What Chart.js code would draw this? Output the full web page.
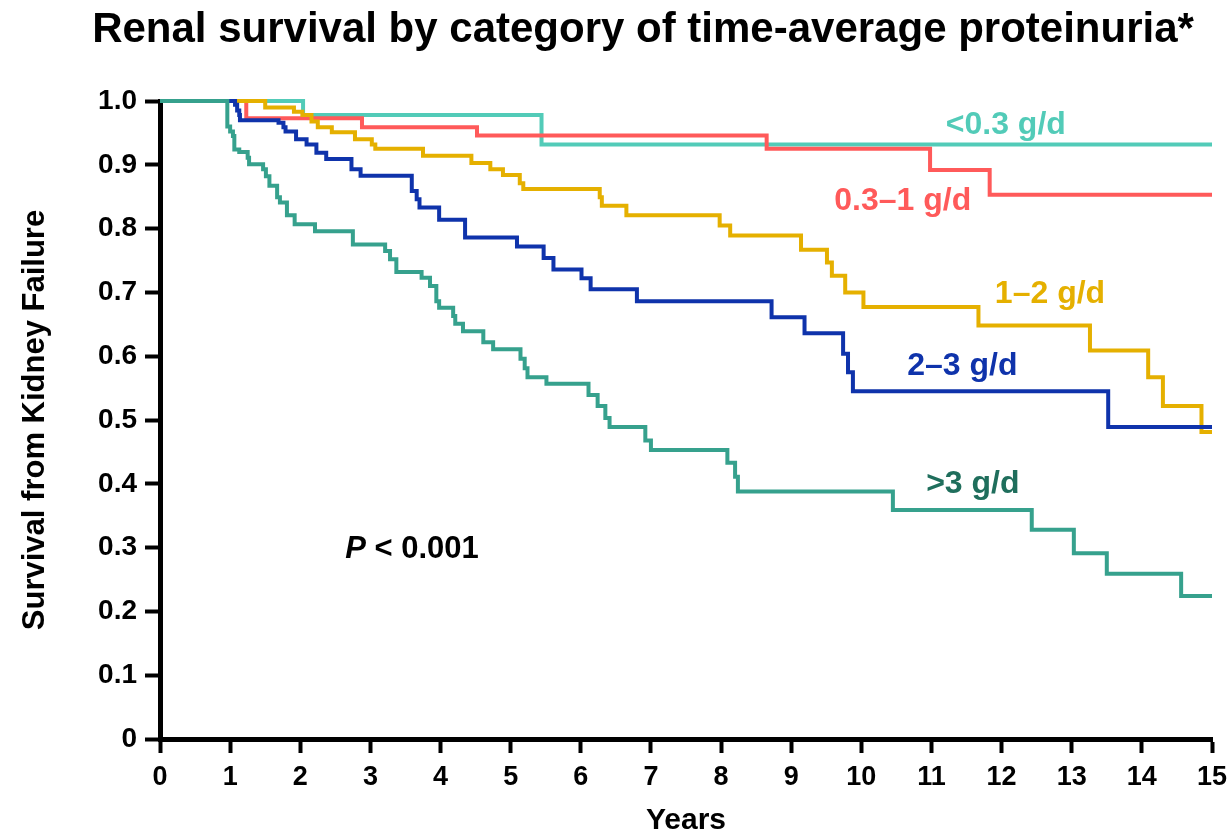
<!DOCTYPE html>
<html>
<head>
<meta charset="utf-8">
<title>Renal survival by category of time-average proteinuria</title>
<script src="https://cdn.jsdelivr.net/npm/chart.js@4"></script>
<style>
  html, body { margin: 0; padding: 0; background: #fff; }
  #wrap { width: 1232px; height: 839px; }
</style>
</head>
<body>
<div id="wrap"><canvas id="kmChart" width="1232" height="839"></canvas></div>
<script>
// Kaplan-Meier steps: time of each drop (years) and survival after it
var tLow = [0, 2.04, 5.44, 15];
var sLow = [1, 0.978, 0.932, 0.932];

var tMid = [0, 1.23, 2.88, 4.52, 8.65, 10.98, 11.83, 15];
var sMid = [1, 0.973, 0.959, 0.946, 0.925, 0.892, 0.853, 0.853];

var tOneTwo = [0, 1.50, 1.91, 2.03, 2.16, 2.25, 2.45, 2.78, 3.02, 3.07, 3.75, 4.44, 4.71, 4.89, 5.13, 5.18,
  6.27, 6.30, 6.65, 7.98, 8.13, 9.14, 9.51, 9.58, 9.77, 10.03, 11.67, 13.26, 14.09, 14.30, 14.85, 15];
var sOneTwo = [1, 0.990, 0.983, 0.978, 0.968, 0.959, 0.951, 0.940, 0.932, 0.925, 0.914, 0.903, 0.893, 0.884, 0.871, 0.862,
  0.849, 0.836, 0.821, 0.805, 0.789, 0.767, 0.747, 0.726, 0.700, 0.677, 0.648, 0.609, 0.567, 0.522, 0.481, 0.481];

var tTwoThree = [0, 1.07, 1.10, 1.13, 1.14, 1.69, 1.76, 1.79, 1.94, 2.09, 2.23, 2.37, 2.73, 2.86, 3.59, 3.66,
  3.70, 3.98, 4.35, 5.09, 5.47, 5.61, 6.01, 6.14, 6.80, 8.72, 9.19, 9.74, 9.81, 9.88, 13.52, 15];
var sTwoThree = [1, 0.994, 0.985, 0.978, 0.970, 0.966, 0.959, 0.952, 0.940, 0.932, 0.919, 0.909, 0.893, 0.883, 0.859, 0.846,
  0.833, 0.814, 0.786, 0.772, 0.754, 0.736, 0.722, 0.705, 0.686, 0.661, 0.636, 0.604, 0.575, 0.545, 0.489, 0.489];

var tHigh = [0, 0.96, 1.00, 1.04, 1.06, 1.13, 1.25, 1.27, 1.47, 1.51, 1.56, 1.67, 1.71, 1.81, 1.92, 2.21,
  2.75, 3.21, 3.28, 3.37, 3.73, 3.85, 3.94, 3.98, 4.18, 4.21, 4.32, 4.61, 4.75, 5.14, 5.20, 5.24,
  5.51, 6.11, 6.24, 6.35, 6.41, 6.92, 7.00, 8.09, 8.20, 8.24, 10.45, 12.43, 13.03, 13.50, 14.56, 15];
var sHigh = [1, 0.960, 0.952, 0.945, 0.924, 0.920, 0.911, 0.901, 0.893, 0.882, 0.867, 0.849, 0.841, 0.821, 0.807, 0.796,
  0.775, 0.765, 0.752, 0.732, 0.723, 0.710, 0.686, 0.676, 0.663, 0.651, 0.639, 0.622, 0.611, 0.596, 0.581, 0.567,
  0.557, 0.539, 0.522, 0.503, 0.489, 0.468, 0.453, 0.433, 0.411, 0.388, 0.359, 0.328, 0.291, 0.259, 0.224, 0.224];

var groupNames = ["<0.3 g/d", "0.3\u20131 g/d", "1\u20132 g/d", "2\u20133 g/d", ">3 g/d"];
var xTicks = [0, 15, 1];
var yTicks = [0, 1, 0.1];

var lineColors = ["#52cbb8", "#ff5a5a", "#e5b000", "#0f33ab", "#36a18d"];
var textColors = ["#52cbb8", "#ff5a5a", "#e5b000", "#0f33ab", "#1f6e5c"];
// where each group's name sits: [x in years, y as survival at the baseline]
var labelSpots = [[12.06, 0.948], [10.59, 0.829], [12.69, 0.683], [11.44, 0.570], [11.59, 0.386]];

function toPoints(ts, ss) {
  return ts.map(function (t, i) { return { x: t, y: ss[i] }; });
}

var series = [[tLow, sLow], [tMid, sMid], [tOneTwo, sOneTwo], [tTwoThree, sTwoThree], [tHigh, sHigh]];
var datasets = series.map(function (s, i) {
  return {
    label: groupNames[i],
    data: toPoints(s[0], s[1]),
    borderColor: lineColors[i],
    borderWidth: 4,
    pointRadius: 0,
    fill: false,
    stepped: "before",
    clip: false
  };
});
// the lowest group is drawn first so the upper curves sit on top
datasets.reverse();

var FONT = "'Liberation Sans', Arial, Helvetica, sans-serif";

var curveLabels = {
  id: "curveLabels",
  afterDatasetsDraw: function (chart) {
    var ctx = chart.ctx, xs = chart.scales.x, ys = chart.scales.y;
    ctx.save();
    ctx.font = "bold 32px " + FONT;
    ctx.textBaseline = "alphabetic";
    ctx.textAlign = "center";
    labelSpots.forEach(function (p, i) {
      ctx.fillStyle = textColors[i];
      ctx.fillText(groupNames[i], xs.getPixelForValue(p[0]), ys.getPixelForValue(p[1]));
    });
    // P value note
    ctx.fillStyle = "#000";
    ctx.textAlign = "left";
    var px = xs.getPixelForValue(2.64), py = ys.getPixelForValue(0.284);
    ctx.font = "italic bold 31px " + FONT;
    ctx.fillText("P", px, py);
    var w = ctx.measureText("P").width;
    ctx.font = "bold 31px " + FONT;
    ctx.fillText(" < 0.001", px + w, py);

    // title
    ctx.font = "bold 42px " + FONT;
    ctx.textAlign = "center";
    ctx.fillText("Renal survival by category of time-average proteinuria*", 643, 42);
    ctx.restore();
  }
};

new Chart(document.getElementById("kmChart").getContext("2d"), {
  type: "line",
  data: { datasets: datasets },
  options: {
    responsive: false,
    animation: false,
    layout: { padding: { top: 101, right: 20, left: 0, bottom: 0 } },
    plugins: {
      legend: { display: false },
      tooltip: { enabled: false },
      title: { display: false }
    },
    scales: {
      x: {
        type: "linear",
        min: xTicks[0],
        max: xTicks[1],
        ticks: {
          stepSize: xTicks[2],
          color: "#000",
          padding: 8,
          maxRotation: 0,
          font: { family: FONT, size: 27, weight: "bold" }
        },
        grid: { drawOnChartArea: false, drawTicks: true, tickLength: 14, tickWidth: 4, color: "#000" },
        border: { display: true, width: 5, color: "#000" },
        title: {
          display: true,
          text: "Years",
          color: "#000",
          padding: { top: 0, bottom: 0 },
          font: { family: FONT, size: 30, weight: "bold" }
        },
        afterFit: function (scale) {
          scale.height = 100;
          scale.paddingRight = 0;
        }
      },
      y: {
        min: yTicks[0],
        max: yTicks[1],
        ticks: {
          stepSize: yTicks[2],
          color: "#000",
          padding: 8,
          font: { family: FONT, size: 28, weight: "bold" },
          callback: function (v) { return v === 0 ? "0" : v.toFixed(1); }
        },
        grid: { drawOnChartArea: false, drawTicks: true, tickLength: 15, tickWidth: 4, color: "#000" },
        border: { display: true, width: 5, color: "#000" },
        title: {
          display: true,
          text: "Survival from Kidney Failure",
          color: "#000",
          padding: { top: 17, bottom: 0 },
          font: { family: FONT, size: 31, weight: "bold" }
        },
        afterFit: function (scale) { scale.width = 160; }
      }
    }
  },
  plugins: [curveLabels]
});
</script>
</body>
</html>
